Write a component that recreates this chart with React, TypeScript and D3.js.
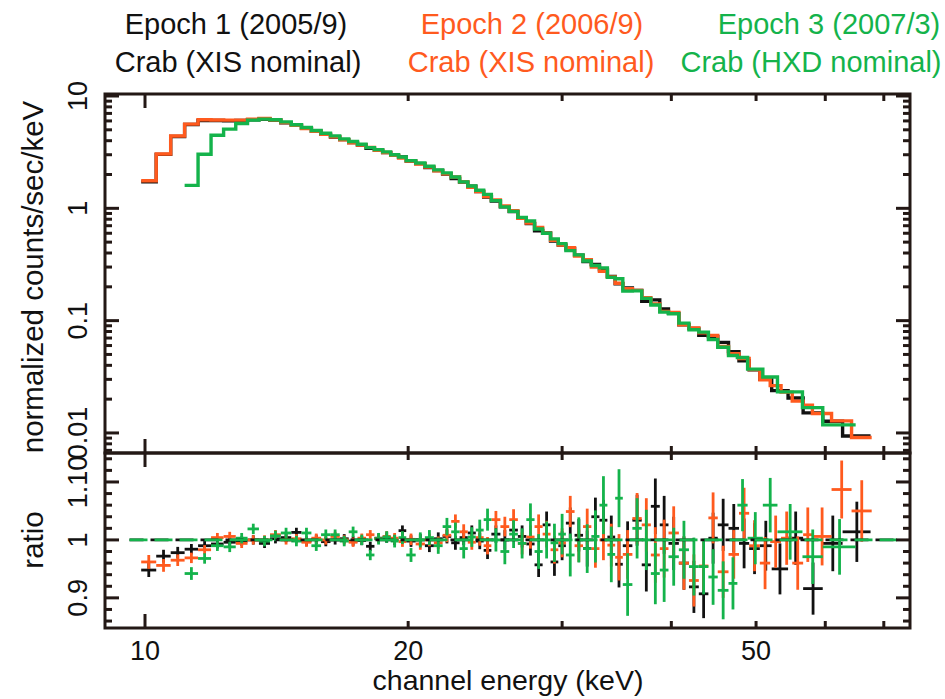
import React from "react";
import * as d3 from "d3";

// ---------------- DATA ----------------
// Epoch 1 (2005/9) Crab XIS nominal — bin edges (keV), counts, ratio, ratio error
const e1Edges = [9.9,10.3,10.7,11.1,11.5,11.9,12.3,12.7,13.1,13.5,13.9,14.3,14.7,15.1,15.5,15.9,16.3,16.7,17.1,17.5,17.9,18.3,18.7,19.1,19.5,19.9,20.4,20.9,21.4,21.9,22.4,22.9,23.4,23.9,24.4,24.9,25.5,26.1,26.7,27.3,27.9,28.5,29.1,29.7,30.3,31.0,31.7,32.4,33.1,33.8,34.5,35.2,36.1,37.0,37.9,38.8,39.7,40.8,41.9,43.0,44.1,45.2,46.5,47.8,49.1,50.5,52.1,54.4,56.6,59.6,62.8,67.6];
const e1Counts = [1.72,3.02,4.36,5.58,6.05,6.05,6.02,6.05,6.15,6.2,6.08,5.78,5.5,5.15,4.86,4.55,4.32,4.09,3.85,3.66,3.42,3.29,3.13,2.96,2.86,2.63,2.5,2.31,2.17,2.02,1.84,1.71,1.57,1.41,1.26,1.16,1.03,0.935,0.825,0.73,0.632,0.605,0.51,0.47,0.437,0.383,0.335,0.317,0.284,0.248,0.213,0.195,0.186,0.149,0.153,0.127,0.116,0.092,0.085,0.074,0.072,0.064,0.053,0.044,0.0365,0.03,0.0238,0.0205,0.0151,0.0127,0.0094];
const e1Ratio = [0.948,0.972,0.978,0.984,0.99,0.993,0.996,0.998,1.0,0.994,1.002,1.004,1.013,0.998,1.001,0.997,1.0,1.002,0.998,0.999,0.989,1.003,1.004,1.0,1.016,0.998,1.0,0.99,1.002,1.006,0.995,1.004,1.012,0.998,0.982,1.01,1.0,1.017,1.006,0.993,0.957,1.026,0.962,0.99,1.029,1.008,0.985,1.04,1.034,1.005,0.958,0.99,1.034,0.957,1.058,1.026,0.994,0.96,0.919,0.907,1.003,1.026,1.02,0.994,0.985,0.99,0.95,1.003,0.916,0.994,1.014];
const e1Err = [0.012,0.011,0.01,0.009,0.008,0.008,0.008,0.008,0.008,0.008,0.008,0.008,0.008,0.008,0.008,0.008,0.008,0.008,0.008,0.008,0.008,0.008,0.009,0.009,0.009,0.01,0.01,0.011,0.011,0.012,0.012,0.013,0.013,0.014,0.015,0.015,0.017,0.018,0.019,0.02,0.021,0.023,0.024,0.025,0.027,0.028,0.031,0.033,0.035,0.037,0.04,0.042,0.044,0.046,0.048,0.05,0.046,0.046,0.045,0.042,0.044,0.045,0.042,0.043,0.044,0.043,0.044,0.046,0.045,0.048,0.052];

// Epoch 2 (2006/9) Crab XIS nominal
const e2Edges = [9.9,10.3,10.7,11.1,11.5,11.9,12.3,12.7,13.1,13.5,13.9,14.3,14.7,15.1,15.5,15.9,16.3,16.7,17.1,17.5,17.9,18.3,18.7,19.1,19.5,19.9,20.4,20.9,21.4,21.9,22.4,22.9,23.4,23.9,24.4,24.9,25.5,26.1,26.7,27.3,27.9,28.5,29.1,29.7,30.3,31.0,31.7,32.4,33.1,33.8,34.5,35.2,36.1,37.0,37.9,38.8,39.7,40.8,41.9,43.0,44.1,45.2,46.5,47.8,49.1,50.5,51.9,53.4,55.0,56.6,58.0,61.0,64.3,67.8];
const e2Counts = [1.76,3.05,4.4,5.62,6.15,6.12,6.1,6.1,6.2,6.3,6.12,5.8,5.48,5.13,4.85,4.57,4.33,4.07,3.84,3.66,3.49,3.28,3.14,2.96,2.8,2.64,2.48,2.33,2.16,2.03,1.9,1.72,1.54,1.41,1.27,1.19,1.05,0.95,0.815,0.738,0.675,0.6,0.52,0.472,0.446,0.376,0.348,0.3,0.275,0.245,0.215,0.192,0.186,0.16,0.141,0.121,0.118,0.092,0.086,0.078,0.074,0.059,0.0507,0.046,0.0366,0.0298,0.0264,0.0231,0.0192,0.0177,0.0149,0.0128,0.0091];
const e2Ratio = [0.962,0.956,0.965,0.969,0.983,1.004,1.006,0.994,1.0,1.0,1.009,1.0,1.002,0.996,1.003,1.0,1.006,1.0,0.996,1.003,1.009,1.002,1.006,1.003,0.997,1.001,0.993,1.0,0.995,1.008,1.032,1.014,0.996,1.004,0.99,1.035,1.023,1.035,0.994,1.005,1.023,1.01,0.983,0.995,1.049,0.99,1.023,0.985,1.0,0.991,0.97,0.975,1.037,1.026,0.974,0.985,1.012,0.96,0.93,0.955,1.038,0.945,0.975,1.046,0.99,0.96,0.997,1.003,0.96,1.009,1.006,1.087,1.05];
const e2Err = [0.012,0.011,0.01,0.009,0.008,0.008,0.008,0.008,0.008,0.008,0.008,0.008,0.008,0.008,0.008,0.008,0.008,0.008,0.008,0.008,0.008,0.008,0.009,0.009,0.009,0.01,0.01,0.011,0.011,0.012,0.012,0.013,0.013,0.014,0.015,0.015,0.017,0.018,0.019,0.02,0.021,0.023,0.024,0.025,0.027,0.028,0.031,0.033,0.035,0.037,0.04,0.042,0.044,0.046,0.048,0.05,0.046,0.046,0.045,0.042,0.044,0.045,0.042,0.044,0.044,0.045,0.045,0.046,0.046,0.047,0.05,0.05,0.053];

// Epoch 3 (2007/3) Crab HXD nominal
const e3Edges = [11.1,11.5,11.9,12.3,12.7,13.1,13.5,13.9,14.3,14.7,15.1,15.5,15.9,16.3,16.7,17.1,17.5,17.9,18.3,18.7,19.1,19.5,19.9,20.4,20.9,21.4,21.9,22.4,22.9,23.4,23.9,24.4,24.9,25.5,26.1,26.7,27.3,27.9,28.5,29.1,29.7,30.3,31.0,31.7,32.4,33.1,33.8,34.5,35.2,36.1,37.0,37.9,38.8,39.7,40.8,41.9,43.0,44.1,45.2,46.5,47.6,48.9,50.9,52.9,56.5,59.6,65.0];
const e3Counts = [1.6,3.03,4.47,5.07,5.7,6.1,6.22,6.15,5.88,5.55,5.25,4.93,4.66,4.42,4.15,3.94,3.72,3.47,3.33,3.18,3.0,2.86,2.66,2.53,2.37,2.2,2.07,1.9,1.72,1.58,1.45,1.33,1.17,1.03,0.94,0.83,0.77,0.655,0.6,0.535,0.485,0.42,0.385,0.34,0.31,0.295,0.243,0.236,0.183,0.184,0.158,0.138,0.119,0.115,0.095,0.083,0.079,0.068,0.058,0.049,0.047,0.037,0.0315,0.0232,0.0168,0.0118];
const e3Ratio = [0.942,0.968,0.99,0.988,1.003,1.019,0.998,1.007,1.012,0.998,1.012,0.99,1.009,1.009,0.998,1.014,1.0,0.974,1.002,1.005,0.998,1.004,0.974,1.0,1.004,0.99,1.023,1.014,0.985,1.005,1.017,1.035,1.0,0.98,1.01,0.994,1.035,0.98,1.0,0.995,1.01,0.974,1.0,0.985,1.006,1.06,0.975,1.072,0.923,1.02,1.0,0.942,0.948,0.971,0.983,0.954,0.954,0.936,0.913,0.925,1.06,1.003,1.06,1.014,0.971,0.988];
const e3Err = [0.011,0.009,0.009,0.009,0.009,0.009,0.009,0.009,0.009,0.009,0.009,0.009,0.009,0.009,0.009,0.009,0.009,0.009,0.01,0.01,0.011,0.011,0.012,0.013,0.013,0.014,0.015,0.016,0.017,0.017,0.018,0.019,0.02,0.022,0.024,0.026,0.028,0.03,0.032,0.033,0.035,0.037,0.039,0.042,0.045,0.05,0.048,0.05,0.054,0.052,0.052,0.053,0.055,0.05,0.05,0.05,0.048,0.048,0.05,0.045,0.045,0.045,0.047,0.048,0.047,0.048];

const modelRange = [9.6, 72.5];

const xMajorTicks = [10];
const xMinorTicks = [20, 30, 40, 50, 60, 70];
const xTickLabels = ["10", "20", "50"];
const xTickLabelValues = [10, 20, 50];
const yTopMajor = [0.01, 0.1, 1, 10];
const yTopLabels = ["0.01", "0.1", "1", "10"];
const yBotMajor = [0.9, 1.0, 1.1];
const yBotLabels = ["0.9", "1", "1.10"];

const headerLine1 = ["Epoch 1 (2005/9)", "Epoch 2 (2006/9)", "Epoch 3 (2007/3)"];
const headerLine2 = ["Crab (XIS nominal)", "Crab (XIS nominal)", "Crab (HXD nominal)"];

// ---------------- LAYOUT ----------------
const W = 945, H = 699;
const X0 = 105, X1 = 910;
const TOP = 94, MID = 453, BOT = 628;
const AXIS = "#231815";
const BLACK = "#111111";
const ORANGE = "#ff5a1e";
const GREEN = "#14b34b";
const FONT = "'Liberation Sans', Arial, Helvetica, sans-serif";

const x = d3.scaleLog().domain([9.0, 75]).range([X0, X1]);
const yTop = d3.scaleLog().domain([0.00663, 10.42]).range([MID, TOP]);
const yBot = d3.scaleLinear().domain([0.848, 1.15]).range([BOT, MID]);

const series = [
  { edges: e1Edges, counts: e1Counts, ratio: e1Ratio, err: e1Err, color: BLACK },
  { edges: e2Edges, counts: e2Counts, ratio: e2Ratio, err: e2Err, color: ORANGE },
  { edges: e3Edges, counts: e3Counts, ratio: e3Ratio, err: e3Err, color: GREEN },
];

function stepPath(edges: number[], vals: number[]) {
  const pts: [number, number][] = [];
  vals.forEach((v, i) => {
    pts.push([x(edges[i]), yTop(v)]);
    pts.push([x(edges[i + 1]), yTop(v)]);
  });
  return d3.line()(pts) || "";
}

// minor log ticks for upper y axis
const yTopMinor: number[] = [];
[0.001, 0.01, 0.1, 1].forEach((dec) => {
  for (let k = 2; k <= 9; k++) {
    const v = dec * k;
    if (v > 0.00663 && v < 10.42) yTopMinor.push(v);
  }
});
const yBotMinor: number[] = [];
for (let v = 0.86; v < 1.15; v += 0.02) yBotMinor.push(+v.toFixed(2));

export default function App() {
  const majLen = 14, minLen = 7;
  const tickStroke = { stroke: AXIS, strokeWidth: 3 };
  const xTicks = [
    ...xMajorTicks.map((t) => ({ t, len: majLen })),
    ...xMinorTicks.map((t) => ({ t, len: minLen })),
  ];
  return (
    <svg width={W} height={H} style={{ display: "block", position: "absolute", left: 0, top: 0 }} fontFamily={FONT}>
      <rect x={0} y={0} width={W} height={H} fill="#fff" />
      {/* header */}
      {[
        { t: headerLine1[0], x: 236, y: 34, c: BLACK },
        { t: headerLine2[0], x: 238, y: 72, c: BLACK },
        { t: headerLine1[1], x: 532, y: 34, c: ORANGE },
        { t: headerLine2[1], x: 531, y: 72, c: ORANGE },
        { t: headerLine1[2], x: 829, y: 34, c: GREEN },
        { t: headerLine2[2], x: 811, y: 72, c: GREEN },
      ].map((h, i) => (
        <text key={i} x={h.x} y={h.y} fill={h.c} fontSize={29} textAnchor="middle">{h.t}</text>
      ))}

      {/* upper spectra */}
      {series.map((s, i) => (
        <path key={i} d={stepPath(s.edges, s.counts)} fill="none" stroke={s.color} strokeWidth={3.4} strokeLinejoin="miter" />
      ))}

      {/* lower ratio crosses */}
      {series.map((s, si) => (
        <g key={si} stroke={s.color} strokeWidth={2.8}>
          {s.ratio.map((r, i) => {
            const lo = s.edges[i], hi = s.edges[i + 1];
            const xc = x((lo + hi) / 2);
            return (
              <g key={i}>
                <line x1={x(lo)} x2={x(hi)} y1={yBot(r)} y2={yBot(r)} />
                <line x1={xc} x2={xc} y1={yBot(r - s.err[i])} y2={yBot(r + s.err[i])} />
              </g>
            );
          })}
        </g>
      ))}
      {/* model line at ratio 1 */}
      <line x1={x(modelRange[0])} x2={x(modelRange[1])} y1={yBot(1)} y2={yBot(1)} stroke={BLACK} strokeWidth={2.8} strokeDasharray="18 7" strokeDashoffset={4} />
      <line x1={x(modelRange[0])} x2={x(modelRange[1])} y1={yBot(1)} y2={yBot(1)} stroke={GREEN} strokeWidth={2.8} strokeDasharray="18 7" />

      {/* frames */}
      <rect x={X0} y={TOP} width={X1 - X0} height={MID - TOP} fill="none" stroke={AXIS} strokeWidth={3} />
      <rect x={X0} y={MID} width={X1 - X0} height={BOT - MID} fill="none" stroke={AXIS} strokeWidth={3} />

      {/* x ticks on all horizontal axes */}
      {xTicks.map(({ t, len }, i) => (
        <g key={i} {...tickStroke}>
          <line x1={x(t)} x2={x(t)} y1={TOP} y2={TOP + len} />
          <line x1={x(t)} x2={x(t)} y1={MID} y2={MID - len} />
          <line x1={x(t)} x2={x(t)} y1={MID} y2={MID + len} />
          <line x1={x(t)} x2={x(t)} y1={BOT} y2={BOT - len} />
        </g>
      ))}

      {/* upper y ticks */}
      {[...yTopMajor.map((t) => ({ t, len: majLen })), ...yTopMinor.map((t) => ({ t, len: minLen }))].map(({ t, len }, i) => (
        <g key={i} {...tickStroke}>
          <line x1={X0} x2={X0 + len} y1={yTop(t)} y2={yTop(t)} />
          <line x1={X1} x2={X1 - len} y1={yTop(t)} y2={yTop(t)} />
        </g>
      ))}
      {/* lower y ticks */}
      {[...yBotMajor.map((t) => ({ t, len: majLen })), ...yBotMinor.filter((v) => !yBotMajor.some((m) => Math.abs(m - v) < 1e-6)).map((t) => ({ t, len: minLen }))].map(({ t, len }, i) => (
        <g key={i} {...tickStroke}>
          <line x1={X0} x2={X0 + len} y1={yBot(t)} y2={yBot(t)} />
          <line x1={X1} x2={X1 - len} y1={yBot(t)} y2={yBot(t)} />
        </g>
      ))}

      {/* tick labels */}
      {xTickLabelValues.map((v, i) => (
        <text key={i} x={x(v)} y={660} fontSize={27} textAnchor="middle" fill={BLACK}>{xTickLabels[i]}</text>
      ))}
      {yTopMajor.map((v, i) => (
        <text key={i} transform={`translate(87,${yTop(v)}) rotate(-90)`} fontSize={27} textAnchor="middle" fill={BLACK}>{yTopLabels[i]}</text>
      ))}
      {yBotMajor.map((v, i) => (
        <text key={i} transform={`translate(87,${yBot(v)}) rotate(-90)`} fontSize={27} textAnchor="middle" fill={BLACK}>{yBotLabels[i]}</text>
      ))}

      {/* axis titles */}
      <text x={508} y={690} fontSize={28.5} textAnchor="middle" fill={BLACK}>channel energy (keV)</text>
      <text transform={`translate(43,277) rotate(-90)`} fontSize={29.5} textAnchor="middle" fill={BLACK}>normalized counts/sec/keV</text>
      <text transform={`translate(43,540) rotate(-90)`} fontSize={29.5} textAnchor="middle" fill={BLACK}>ratio</text>
    </svg>
  );
}
